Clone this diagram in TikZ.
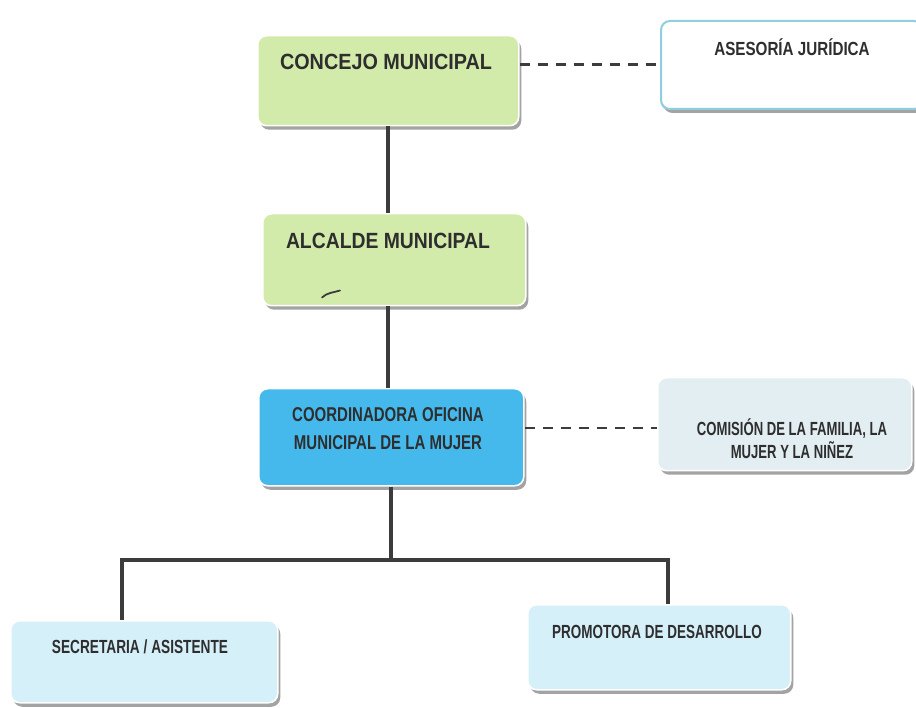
\documentclass[tikz,border=0pt]{standalone}
\usepackage{fontspec}
\usepackage{graphicx}
\setmainfont{Liberation Sans}
\usetikzlibrary{shadows,calc}
\definecolor{greenbox}{HTML}{D3EBAA}
\definecolor{bluebox}{HTML}{45B9EC}
\definecolor{palebox}{HTML}{D6F0FA}
\definecolor{greybox}{HTML}{E3EEF2}
\definecolor{lineclr}{HTML}{3C3C3C}
\definecolor{txtclr}{HTML}{2E2E2E}
\definecolor{edgeclr}{HTML}{8FCFDC}
\newcommand{\cnd}[2]{\scalebox{#1}[1]{#2}}
\begin{document}
\begin{tikzpicture}[x=1pt,y=-1pt,
  orgbox/.style={rounded corners=9pt, draw=white, line width=1.5pt, anchor=north west,
     inner sep=0pt, drop shadow={shadow xshift=2.5pt, shadow yshift=-4pt, fill=black!45, opacity=0.8}},
  lbl/.style={font=\bfseries\fontsize{20}{28}\selectfont, text=txtclr, align=center, inner sep=0pt},
  conn/.style={draw=lineclr, line width=4pt},
  dashconn/.style={draw=lineclr, line width=2.5pt, dash pattern=on 10pt off 8pt}]
\useasboundingbox (0,0) rectangle (916,708);
\fill[white] (0,0) rectangle (916,708);

% boxes
\node[orgbox, fill=greenbox, minimum width=261pt, minimum height=90pt] (concejo) at (257,35) {};
\node[orgbox, fill=white, draw=edgeclr, line width=2pt, minimum width=262pt, minimum height=88pt,
      drop shadow={shadow xshift=0pt, shadow yshift=-2pt, fill=black!35}] (asesoria) at (660,20) {};
\node[orgbox, fill=greenbox, minimum width=263pt, minimum height=92pt] (alcalde) at (262,213) {};
\node[orgbox, fill=bluebox, minimum width=265pt, minimum height=97pt] (coord) at (258,388) {};
\node[orgbox, fill=greybox, minimum width=254pt, minimum height=93pt] (comision) at (657,377) {};
\node[orgbox, fill=palebox, minimum width=267pt, minimum height=82pt] (secretaria) at (10,620) {};
\node[orgbox, fill=palebox, minimum width=263pt, minimum height=85pt] (promotora) at (527,604) {};

% labels
\node[lbl, font=\bfseries\fontsize{22}{28}\selectfont] (concejo-t) at (386,62) {\cnd{0.9}{CONCEJO MUNICIPAL}};
\node[lbl, font=\bfseries\fontsize{19}{26}\selectfont] (asesoria-t) at (792,47) {\cnd{0.8}{ASESORÍA JURÍDICA}};
\node[lbl, font=\bfseries\fontsize{22}{28}\selectfont] (alcalde-t) at (388,241) {\cnd{0.88}{ALCALDE MUNICIPAL}};
\node[lbl] (coord-t) at (388,429) {\cnd{0.75}{COORDINADORA OFICINA}\\\cnd{0.75}{MUNICIPAL DE LA MUJER}};
\node[lbl, font=\bfseries\fontsize{19}{23}\selectfont] (comision-t) at (792,439) {\cnd{0.69}{COMISIÓN DE LA FAMILIA, LA}\\\cnd{0.69}{MUJER Y LA NIÑEZ}};
\node[lbl, font=\bfseries\fontsize{19}{24}\selectfont] (secretaria-t) at (140,647) {\cnd{0.72}{SECRETARIA / ASISTENTE}};
\node[lbl, font=\bfseries\fontsize{19}{24}\selectfont] (promotora-t) at (657,632) {\cnd{0.71}{PROMOTORA DE DESARROLLO}};

% stray pen mark in the Alcalde box
\draw[lineclr, line width=1.8pt, line cap=round] (alcalde.south west) ++(60,-9) coordinate (m1) .. controls ++(5,-5) and ++(-6,2) .. ++(18,-7) coordinate (m2);

% connectors
\draw[conn] (concejo.south) -- (concejo.south |- alcalde.north);
\draw[conn] (alcalde.south -| concejo.south) -- (concejo.south |- coord.north);
\coordinate (jl) at (122,560);
\coordinate (jr) at (668,560);
\draw[conn] (coord.south) -- (coord.south |- jl);
\draw[conn, line join=miter] (secretaria.north -| jl) -- (jl) -- (jr) -- (promotora.north -| jr);

\draw[dashconn] ([yshift=16pt]concejo.east) -- ([yshift=16pt]concejo.east -| asesoria.west);
\draw[dashconn] ([yshift=9pt]coord.east) -- ([yshift=9pt]coord.east -| comision.west);
\end{tikzpicture}
\end{document}
